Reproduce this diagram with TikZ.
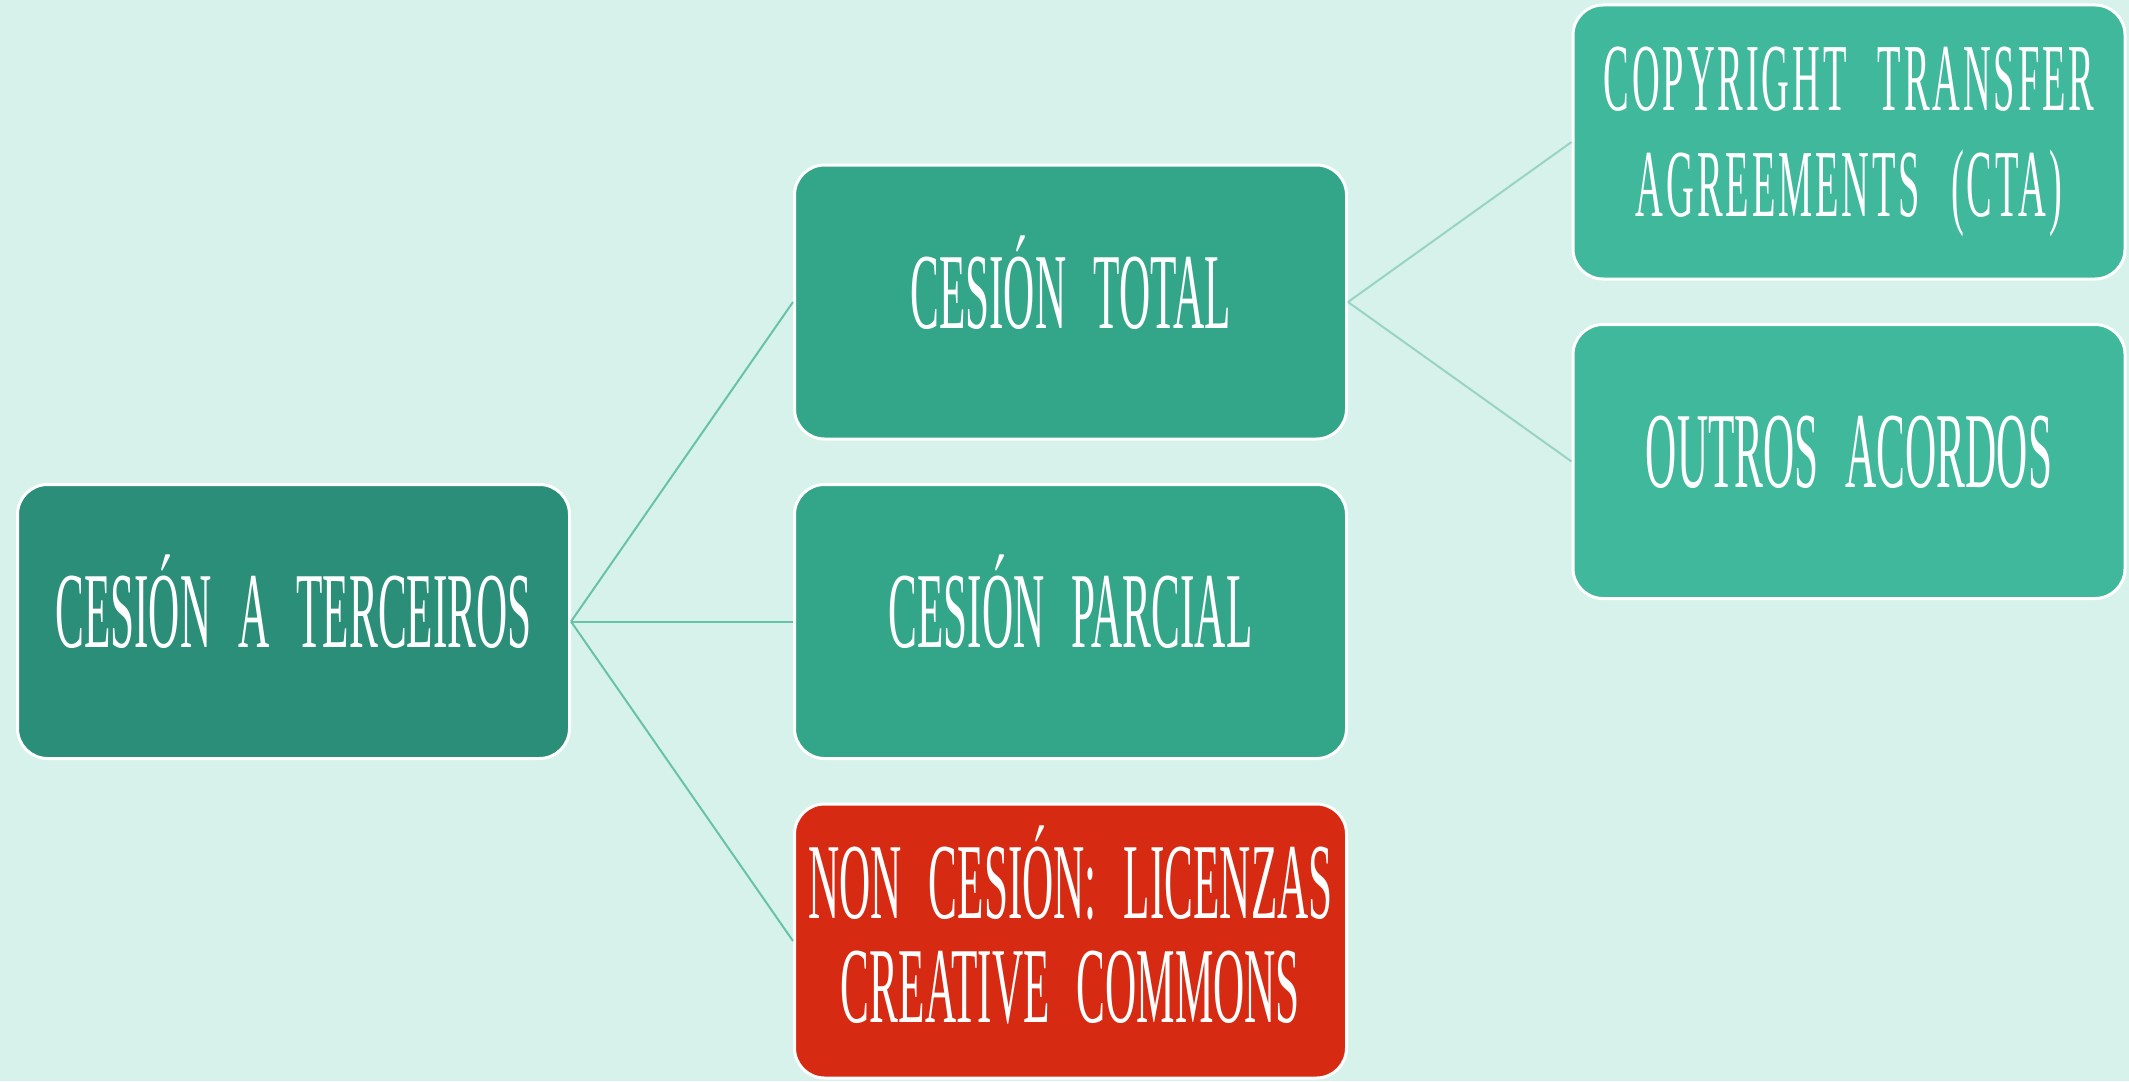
\documentclass[tikz,border=0pt]{standalone}
\usepackage{fontspec}
\setmainfont{Liberation Serif}[FakeStretch=0.4,WordSpace=2.5]
\usetikzlibrary{positioning}

\definecolor{fondo}{RGB}{214,242,234}
\definecolor{verdeA}{RGB}{43,142,120}
\definecolor{verdeB}{RGB}{51,166,138}
\definecolor{verdeC}{RGB}{64,184,156}
\definecolor{vermello}{RGB}{214,42,18}
\definecolor{ramaA}{RGB}{104,195,166}
\definecolor{ramaB}{RGB}{152,213,192}

\tikzset{caja/.style={draw=white, line width=1.5pt, rounded corners=15pt,
                      minimum width=276pt, minimum height=137pt, inner sep=0pt,
                      text=white, align=center},
         unha/.style={text height=30pt, text depth=4pt},
         liña/.style={ramaA, line width=1pt},
         liñab/.style={ramaB, line width=1pt}}

\begin{document}
\begin{tikzpicture}[x=0.5pt,y=-0.5pt]
    \fill[fondo] (0,0) rectangle (2129,1081);
    \useasboundingbox (0,0) rectangle (2129,1081);
    {\fontsize{54}{52}\selectfont
      \node(ter) at (293.5,621.5) [caja,unha,fill=verdeA] {CESIÓN A TERCEIROS};

      \node(total) at (1070.5,302) [caja,unha,fill=verdeB] {CESIÓN TOTAL};
      \node(parcial) at (1070.5,621.5) [caja,unha,fill=verdeB] {CESIÓN PARCIAL};
      \node(non) at (1070.5,941) [caja,fill=vermello,text depth=17pt] {NON CESIÓN: LICENZAS\\CREATIVE COMMONS};

      \node(cta) at (1849,142) [caja,fill=verdeC,font=\fontsize{48}{53}\selectfont\addfontfeatures{LetterSpace=3}] {COPYRIGHT TRANSFER\\AGREEMENTS (CTA)};
      \node(outros) at (1849,461.5) [caja,unha,fill=verdeC] {OUTROS ACORDOS};

      \draw (ter.east) edge[liña] (total.west);
      \draw (ter.east) edge[liña] (parcial.west);
      \draw (ter.east) edge[liña] (non.west);

      \draw (total.east) edge[liñab] (cta.west);
      \draw (total.east) edge[liñab] (outros.west);
    }
\end{tikzpicture}
\end{document}
